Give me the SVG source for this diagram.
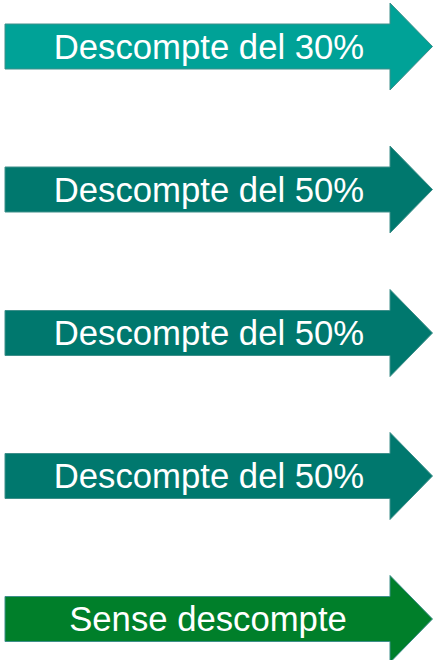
<svg xmlns="http://www.w3.org/2000/svg" width="433" height="660" viewBox="0 0 433 660">
<defs>
<style>
.arrow{stroke:#3E8F8A;stroke-width:1}
.a1{fill:#00A297}
.a2{fill:#00786E}
.a3{fill:#007F2A}
.lbl{font-family:"Liberation Sans",Arial,sans-serif;font-size:34.7px;fill:#FFFFFF;text-anchor:middle}
</style>
<path id="shape" d="M5,-22.5 H390 V-43.5 L432.5,0 L390,43.5 V22.5 H5 Z"/>
</defs>
<rect width="433" height="660" fill="#FFFFFF"/>
<g id="node1" transform="translate(0,46.5)">
<use href="#shape" class="arrow a1"/>
<text class="lbl" x="209" y="12">Descompte del 30%</text>
</g>
<g id="node2" transform="translate(0,189.5)">
<use href="#shape" class="arrow a2"/>
<text class="lbl" x="209" y="12">Descompte del 50%</text>
</g>
<g id="node3" transform="translate(0,333)">
<use href="#shape" class="arrow a2"/>
<text class="lbl" x="209" y="12">Descompte del 50%</text>
</g>
<g id="node4" transform="translate(0,476)">
<use href="#shape" class="arrow a2"/>
<text class="lbl" x="209" y="12">Descompte del 50%</text>
</g>
<g id="node5" transform="translate(0,619)">
<use href="#shape" class="arrow a3"/>
<text class="lbl" x="208" y="12">Sense descompte</text>
</g>
<g id="connectors"></g>
</svg>
